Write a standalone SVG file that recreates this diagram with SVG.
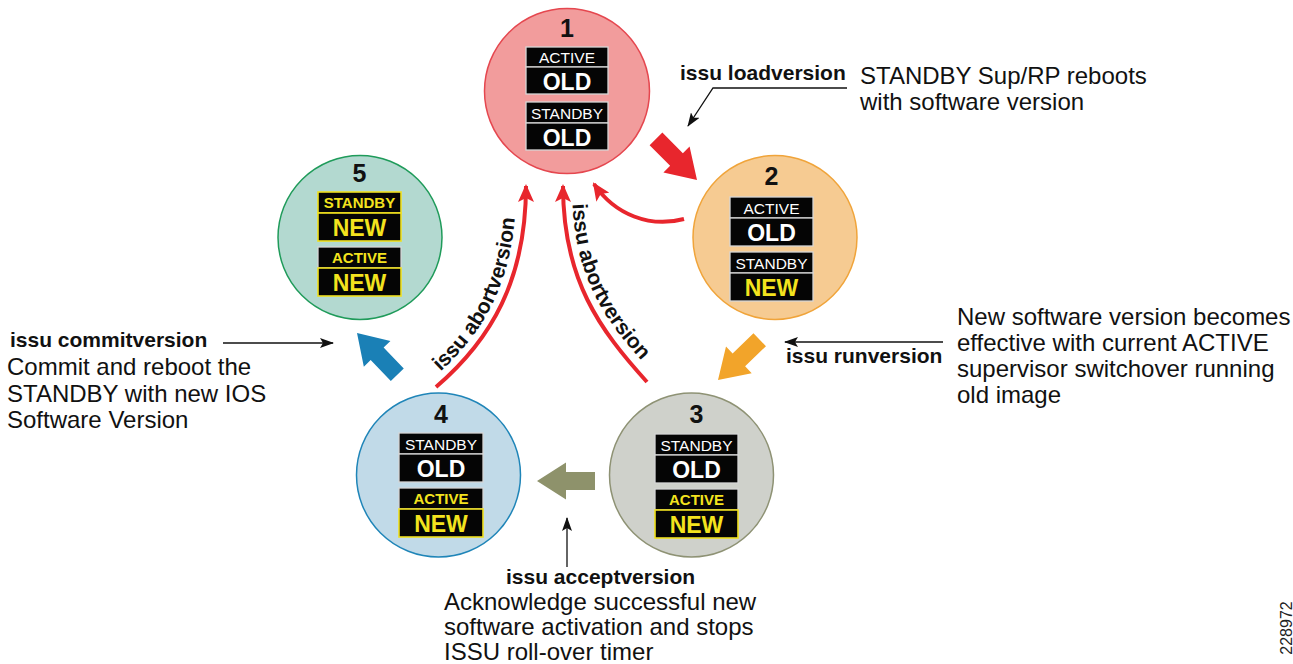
<svg xmlns="http://www.w3.org/2000/svg" width="1293" height="664" viewBox="0 0 1293 664">
<style>
text{font-family:"Liberation Sans",Arial,sans-serif;}
.num{font-size:25px;font-weight:bold;fill:#111;text-anchor:middle}
.bx{fill:#050505;stroke:#d6d6d6;stroke-width:1.3}
.bxy{fill:#050505;stroke:#efe01f;stroke-width:1.6}
.lw{font-size:15.5px;fill:#fff;text-anchor:middle}
.ly{font-size:15px;font-weight:bold;fill:#f3e31e;text-anchor:middle}
.vw{font-size:23px;font-weight:bold;fill:#fff;text-anchor:middle}
.vy{font-size:23px;font-weight:bold;fill:#f3e31e;text-anchor:middle}
.cmd{font-size:21px;font-weight:bold;fill:#111}
.desc{font-size:24px;fill:#111}
.ptr{fill:none;stroke:#111;stroke-width:1.3}
.rc{fill:none;stroke:#e8262d;stroke-width:4}
.abort{font-size:21px;font-weight:bold;fill:#111}
</style>
<defs>
<marker id="ah" viewBox="0 0 14 10" refX="13" refY="5" markerWidth="14" markerHeight="10" markerUnits="userSpaceOnUse" orient="auto">
<path d="M0,0 L14,5 L0,10 L3,5 Z" fill="#111"/>
</marker>
<marker id="rh" viewBox="0 0 18 16" refX="16" refY="8" markerWidth="18" markerHeight="16" markerUnits="userSpaceOnUse" orient="auto">
<path d="M0,0 L18,8 L0,16 L4,8 Z" fill="#e8262d"/>
</marker>
<path id="blk" d="M0,0 L-29,-18.5 L-29,-9 L-58,-9 L-58,9 L-29,9 L-29,18.5 Z"/>
<path id="pl" d="M430,381 C485,334 516,280 516,188"/>
<path id="pr" d="M572,188 C572,280 608,326 656,376"/>
</defs>

<g id="connectors">
<use href="#blk" fill="#e8262d" transform="translate(697,180) rotate(45)"/>
<use href="#blk" fill="#f2a42a" transform="translate(718,380) rotate(136)"/>
<use href="#blk" fill="#8e926b" transform="translate(537,481) rotate(180)"/>
<use href="#blk" fill="#1a80b6" transform="translate(357,333) rotate(-134)"/>
<path class="rc" d="M684,219 C650,228 615,215 594,184" marker-end="url(#rh)"/>
<path class="rc" d="M436,387 C491,340 526,280 526,186" marker-end="url(#rh)"/>
<path class="rc" d="M647,382 C600,330 563,280 563,186" marker-end="url(#rh)"/>
<text class="abort"><textPath href="#pl" startOffset="14">issu abortversion</textPath></text>
<text class="abort"><textPath href="#pr" startOffset="16">issu abortversion</textPath></text>
<polyline class="ptr" points="847,88 713,88 688,126" marker-end="url(#ah)"/>
<line class="ptr" x1="943" y1="342" x2="785" y2="342" marker-end="url(#ah)"/>
<line class="ptr" x1="223" y1="343" x2="333" y2="343" marker-end="url(#ah)"/>
<line class="ptr" x1="567" y1="567" x2="567" y2="518" marker-end="url(#ah)"/>
</g>

<g id="node1">
<circle cx="567" cy="91" r="82.5" fill="#f29c9c" stroke="#e5474f" stroke-width="1.5"/>
<text class="num" x="567" y="37">1</text>
<rect class="bx" x="526" y="47" width="82" height="20"/><text class="lw" x="567" y="63">ACTIVE</text>
<rect class="bx" x="526" y="67" width="82" height="27"/><text class="vw" x="567" y="90">OLD</text>
<rect class="bx" x="526" y="102" width="82" height="21"/><text class="lw" x="567" y="119">STANDBY</text>
<rect class="bx" x="526" y="123" width="82" height="27"/><text class="vw" x="567" y="146">OLD</text>
</g>

<g id="node2">
<circle cx="775" cy="237.5" r="82" fill="#f6cb92" stroke="#f0a43a" stroke-width="1.5"/>
<text class="num" x="771.5" y="185">2</text>
<rect class="bx" x="730" y="197" width="83" height="21"/><text class="lw" x="771.5" y="214">ACTIVE</text>
<rect class="bx" x="730" y="218" width="83" height="28"/><text class="vw" x="771.5" y="241">OLD</text>
<rect class="bx" x="730" y="252" width="83" height="21"/><text class="lw" x="771.5" y="269">STANDBY</text>
<rect class="bx" x="730" y="273" width="83" height="28"/><text class="vy" x="771.5" y="296">NEW</text>
</g>

<g id="node5">
<circle cx="360" cy="237.5" r="82" fill="#b3d9d0" stroke="#1f9b5a" stroke-width="1.5"/>
<text class="num" x="359.5" y="182">5</text>
<rect class="bxy" x="318" y="192" width="83" height="21"/><text class="ly" x="359.5" y="208">STANDBY</text>
<rect class="bxy" x="318" y="213" width="83" height="28"/><text class="vy" x="359.5" y="236">NEW</text>
<rect class="bx" x="318" y="247" width="83" height="21"/><text class="ly" x="359.5" y="263">ACTIVE</text>
<rect class="bxy" x="318" y="268" width="83" height="28"/><text class="vy" x="359.5" y="291">NEW</text>
</g>

<g id="node4">
<circle cx="438.5" cy="475" r="82" fill="#c1dae8" stroke="#1f85b8" stroke-width="1.5"/>
<text class="num" x="441" y="423">4</text>
<rect class="bx" x="399" y="433" width="84" height="21"/><text class="lw" x="441" y="450">STANDBY</text>
<rect class="bx" x="399" y="454" width="84" height="28"/><text class="vw" x="441" y="477">OLD</text>
<rect class="bx" x="399" y="488" width="84" height="21"/><text class="ly" x="441" y="504">ACTIVE</text>
<rect class="bxy" x="399" y="509" width="84" height="28"/><text class="vy" x="441" y="532">NEW</text>
</g>

<g id="node3">
<circle cx="691.5" cy="475" r="82" fill="#cfd1cb" stroke="#8e9274" stroke-width="1.5"/>
<text class="num" x="696.5" y="423">3</text>
<rect class="bx" x="655" y="434" width="83" height="21"/><text class="lw" x="696.5" y="451">STANDBY</text>
<rect class="bx" x="655" y="455" width="83" height="28"/><text class="vw" x="696.5" y="478">OLD</text>
<rect class="bx" x="655" y="489" width="83" height="21"/><text class="ly" x="696.5" y="505">ACTIVE</text>
<rect class="bxy" x="655" y="510" width="83" height="28"/><text class="vy" x="696.5" y="533">NEW</text>
</g>

<g id="label-load">
<text class="cmd" x="680" y="80">issu loadversion</text>
<text class="desc" x="860" y="84">STANDBY Sup/RP reboots</text>
<text class="desc" x="860" y="110">with software version</text>
</g>
<g id="label-run">
<text class="cmd" x="786" y="363">issu runversion</text>
<text class="desc" x="957" y="325">New software version becomes</text>
<text class="desc" x="957" y="351">effective with current ACTIVE</text>
<text class="desc" x="957" y="377">supervisor switchover running</text>
<text class="desc" x="957" y="403">old image</text>
</g>
<g id="label-commit">
<text class="cmd" x="10" y="347">issu commitversion</text>
<text class="desc" x="7" y="375">Commit and reboot the</text>
<text class="desc" x="7" y="402">STANDBY with new IOS</text>
<text class="desc" x="7" y="428">Software Version</text>
</g>
<g id="label-accept">
<text class="cmd" x="506" y="584">issu acceptversion</text>
<text class="desc" x="444" y="610">Acknowledge successful new</text>
<text class="desc" x="444" y="635">software activation and stops</text>
<text class="desc" x="444" y="660">ISSU roll-over timer</text>
</g>
<text x="1293" y="628" transform="rotate(-90 1293 628)" font-size="16" fill="#222" text-anchor="middle" dy="-1">228972</text>
</svg>
